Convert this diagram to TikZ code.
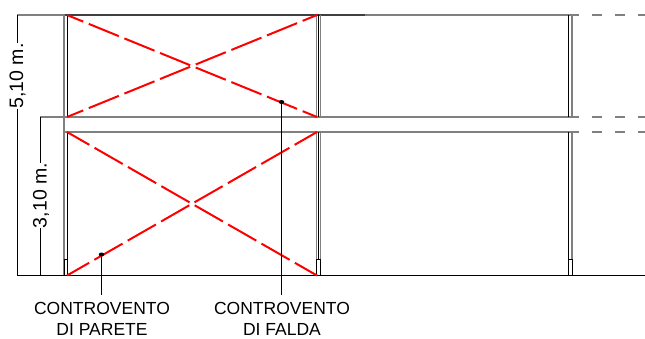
\documentclass[tikz,border=0pt]{standalone}
\usepackage{fontspec}
\setmainfont{Liberation Sans}
\usetikzlibrary{shapes.geometric}
\tikzset{
  every picture/.style={x=1pt,y=-1pt},
  beam/.style={draw=black!50,line width=1.6pt},
  beamdark/.style={draw=black!75,line width=1.6pt},
  beamdash/.style={draw=black!50,line width=1.6pt,dash pattern=on 10pt off 13pt},
  colblack/.style={draw=black,line width=1pt},
  colgray/.style={draw=black!50,line width=1.6pt},
  thinl/.style={draw=black,line width=1pt},
  brace/.style={draw=red,line width=2pt,dash pattern=on 32.5pt off 6pt},
  txt/.style={font=\fontsize{17.5}{20}\selectfont,inner sep=0pt,text=black},
  dimtxt/.style={font=\fontsize{19.5}{22}\selectfont,inner sep=0pt,text=black,rotate=90},
  dot/.style={ellipse,fill=black,inner sep=0pt,minimum width=5.5pt,minimum height=4pt}
}
\begin{document}
\begin{tikzpicture}
\useasboundingbox (0,0) rectangle (645,338);
% key points
\coordinate (tl) at (67,15); \coordinate (tr) at (317,15);
\coordinate (ml) at (67,117); \coordinate (mr) at (317,117);
\coordinate (ll) at (67,132); \coordinate (lr) at (317,132);
\coordinate (bl) at (67,275.5); \coordinate (br) at (317,275.5);
% beams
\draw[beam] (17,15) -- (65,15);
\draw[beam] (365,15) -- (579,15);
\draw[beamdark] (65,15) -- (365,15);
\draw[beam] (40,117) -- (579,117);
\draw[beam] (64,132) -- (579,132);
\foreach \yy in {15,117,132}{
  \draw[beamdash] (592,\yy) -- (645,\yy);
}
% columns
\draw[colgray] (64.2,15) -- (64.2,275);
\draw[colblack] (67.3,15) -- (67.3,117);
\draw[colblack] (67.3,132) -- (67.3,275);
\draw[colgray] (316.3,15) -- (316.3,117);
\draw[colblack] (318.5,15) -- (318.5,117);
\draw[colgray] (320.3,15) -- (320.3,117);
\draw[colgray] (316.3,132) -- (316.3,275);
\draw[colblack] (318.5,132) -- (318.5,275);
\draw[colgray] (320.3,132) -- (320.3,275);
\draw[colblack] (568.5,15) -- (568.5,117);
\draw[colgray] (571.7,15) -- (571.7,117);
\draw[colblack] (568.5,132) -- (568.5,275);
\draw[colgray] (571.7,132) -- (571.7,275);
% base plates
\foreach \xa/\xb in {64.5/67.5,316.5/320,568.5/572}{
  \draw[draw=black,line width=0.8pt,fill=white] (\xa,275) -- (\xa,259.5) -- (\xb,259.5) -- (\xb,275);
  \draw[draw=black!50,line width=1.6pt] (\xa-8,275.5) -- (\xb+8,275.5);
}
\draw[thinl] (17,275.5) -- (645,275.5);
% bracing
\draw[brace,dash phase=15pt] (tl) -- (mr);
\draw[brace,dash phase=15pt] (ml) -- (tr);
\draw[brace,dash phase=7pt] (bl) -- (lr);
\draw[brace,dash phase=7pt] (br) -- (ll);
% dimensions
\node[dimtxt] (d1) at (17.5,76) {5,10 m.};
\node[dimtxt] (d2) at (41,195.5) {3,10 m.};
\coordinate (d1t) at (17,15); \coordinate (d1b) at (17,275.5);
\coordinate (d2t) at (40,117); \coordinate (d2b) at (40,275.5);
\draw[thinl] (d1t) -- (d1t |- d1.east);
\draw[thinl] (d1t |- d1.west) -- (d1b);
\draw[thinl] (d2t) -- (d2t |- d2.east);
\draw[thinl] (d2t |- d2.west) -- (d2b);
% leaders and labels
\node[dot] (p1) at (101.5,254.5) {};
\node[dot] (p2) at (281.5,102) {};
\node[txt] (l1) at (102,308) {CONTROVENTO};
\node[txt] (l1b) at (102,329.5) {DI PARETE};
\node[txt] (l2) at (282,308) {CONTROVENTO};
\node[txt] (l2b) at (282,329.5) {DI FALDA};
\coordinate (e1) at (101.5,295); \coordinate (e2) at (281.5,295);
\draw[thinl] (p1) -- (e1);
\draw[thinl] (p2) -- (e2);
\end{tikzpicture}
\end{document}
